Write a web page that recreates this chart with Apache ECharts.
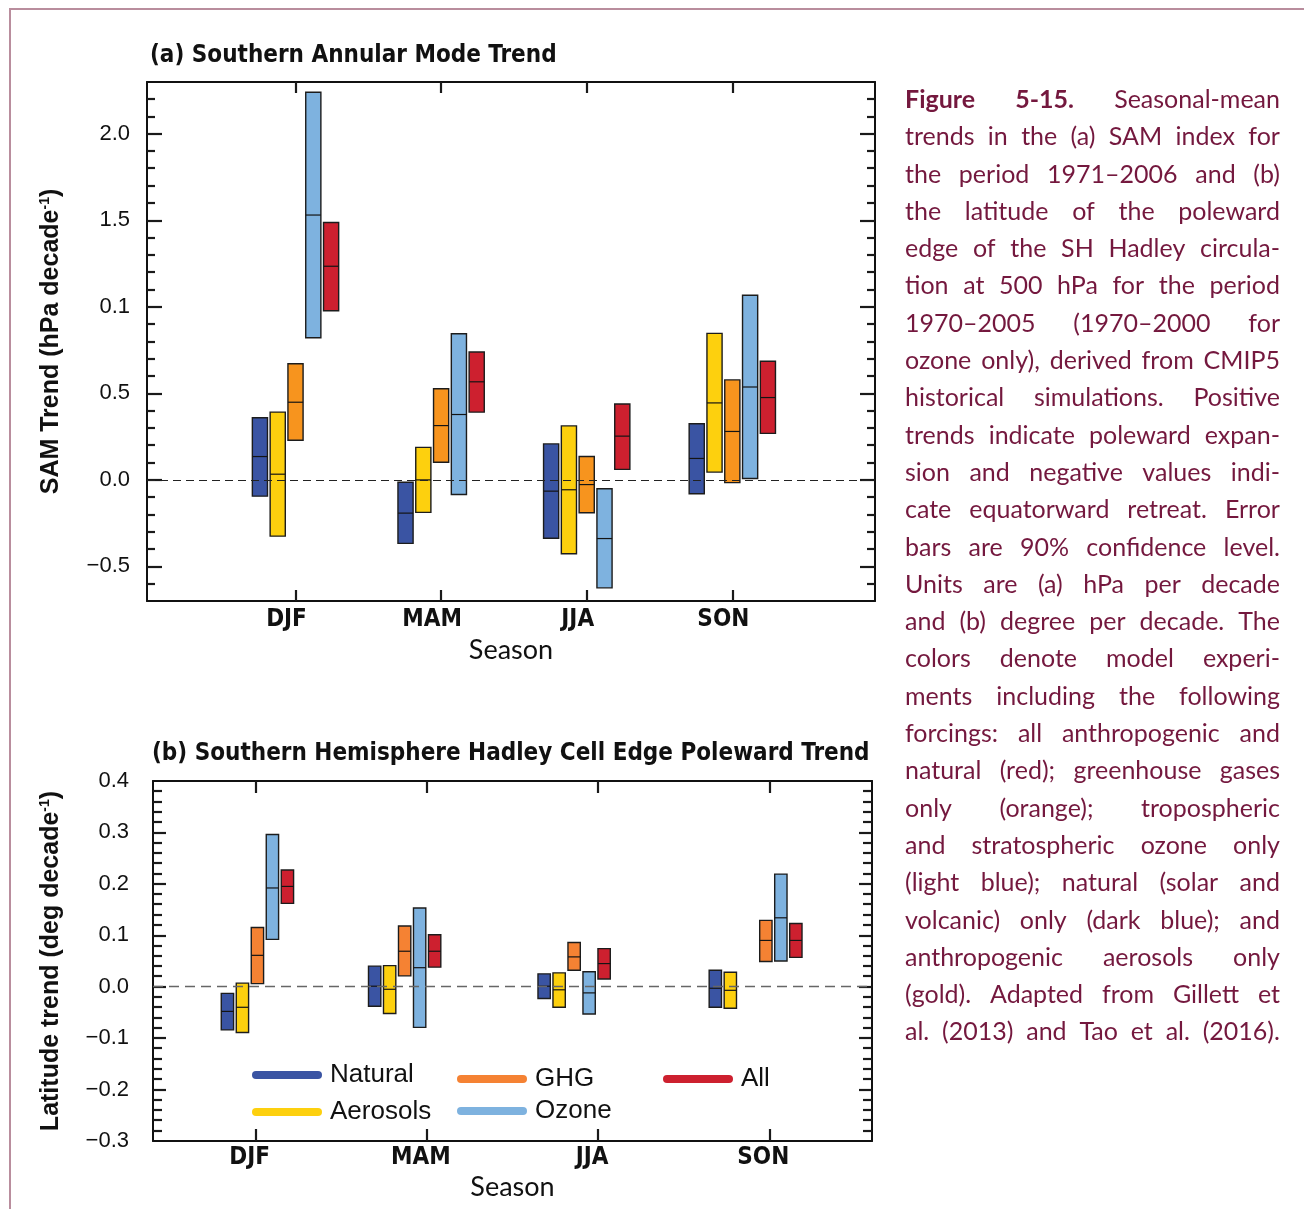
<!DOCTYPE html>
<html><head><meta charset="utf-8">
<script src="https://cdn.jsdelivr.net/npm/echarts@6/dist/echarts.min.js"></script>
<style>
html,body{margin:0;padding:0;background:#fff;}
#wrap{position:relative;width:1304px;height:1209px;overflow:hidden;background:#fff;}
#chart{position:absolute;left:0;top:0;width:1304px;height:1209px;}
#frame{position:absolute;left:9px;top:8px;width:1400px;height:1300px;border-top:2px solid #b98d9d;border-left:2px solid #b98d9d;pointer-events:none;}
#caption{position:absolute;left:905px;top:80px;width:375px;font-family:Lato,'Noto Sans',sans-serif;font-size:25px;color:#74183e;}
.cl{display:flex;justify-content:space-between;height:37.3px;line-height:37.3px;white-space:nowrap;}
.cl b{font-weight:bold;}
</style></head>
<body><div id="wrap"><div id="chart"></div><div id="frame"></div><div id="caption"></div></div>
<script>
// ---------------- DATA ----------------
const seasons = ['DJF', 'MAM', 'JJA', 'SON'];
const experiments = ['Natural', 'Aerosols', 'GHG', 'Ozone', 'All'];

// (a) SAM trend, hPa/decade : [low, median, high] per season
const samNatural  = [[-0.094, 0.135, 0.359], [-0.367, -0.192, -0.014], [-0.337, -0.065, 0.208], [-0.080, 0.124, 0.325]];
const samAerosols = [[-0.325, 0.033, 0.392], [-0.188, 0.000, 0.188], [-0.427, -0.057, 0.312], [0.045, 0.445, 0.847]];
const samGHG      = [[0.229, 0.449, 0.671], [0.102, 0.314, 0.527], [-0.190, -0.027, 0.135], [-0.016, 0.280, 0.578]];
const samOzone    = [[0.822, 1.531, 2.241], [-0.084, 0.378, 0.845], [-0.624, -0.339, -0.051], [0.008, 0.537, 1.067]];
const samAll      = [[0.978, 1.235, 1.488], [0.392, 0.567, 0.739], [0.061, 0.253, 0.439], [0.269, 0.476, 0.686]];

// (b) Hadley cell edge trend, deg/decade : [low, median, high] per season
const hcNatural  = [[-0.084, -0.048, -0.013], [-0.038, 0.001, 0.040], [-0.023, 0.001, 0.025], [-0.040, -0.003, 0.032]];
const hcAerosols = [[-0.089, -0.040, 0.007], [-0.052, -0.005, 0.041], [-0.040, -0.006, 0.027], [-0.042, -0.007, 0.028]];
const hcGHG      = [[0.006, 0.061, 0.115], [0.021, 0.069, 0.118], [0.032, 0.058, 0.086], [0.049, 0.090, 0.129]];
const hcOzone    = [[0.092, 0.192, 0.296], [-0.079, 0.037, 0.153], [-0.053, -0.012, 0.029], [0.050, 0.134, 0.219]];
const hcAll      = [[0.162, 0.195, 0.227], [0.038, 0.069, 0.101], [0.015, 0.045, 0.074], [0.057, 0.090, 0.123]];

// tick labels
const samTickValues = [-0.5, 0.0, 0.5, 1.0, 1.5, 2.0];
const samTickLabels = ['\u22120.5', '0.0', '0.5', '0.1', '1.5', '2.0'];
const hcTickValues = [-0.3, -0.2, -0.1, 0.0, 0.1, 0.2, 0.3, 0.4];
const hcTickLabels = ['\u22120.3', '\u22120.2', '\u22120.1', '0.0', '0.1', '0.2', '0.3', '0.4'];

const captionLines = [
  'Figure 5-15. Seasonal-mean',
  'trends in the (a) SAM index for',
  'the period 1971\u20132006 and (b)',
  'the latitude of the poleward',
  'edge of the SH Hadley circula-',
  'tion at 500 hPa for the period',
  '1970\u20132005 (1970\u20132000 for',
  'ozone only), derived from CMIP5',
  'historical simulations. Positive',
  'trends indicate poleward expan-',
  'sion and negative values indi-',
  'cate equatorward retreat. Error',
  'bars are 90% confidence level.',
  'Units are (a) hPa per decade',
  'and (b) degree per decade. The',
  'colors denote model experi-',
  'ments including the following',
  'forcings: all anthropogenic and',
  'natural (red); greenhouse gases',
  'only (orange); tropospheric',
  'and stratospheric ozone only',
  '(light blue); natural (solar and',
  'volcanic) only (dark blue); and',
  'anthropogenic aerosols only',
  '(gold). Adapted from Gillett et',
  'al. (2013) and Tao et al. (2016).'
];

// ---------------- CAPTION ----------------
const cap = document.getElementById('caption');
captionLines.forEach(function (line, i) {
  const d = document.createElement('div');
  d.className = 'cl';
  line.split(' ').forEach(function (w, j) {
    const s = document.createElement(i === 0 && j < 2 ? 'b' : 'span');
    s.textContent = w;
    d.appendChild(s);
  });
  cap.appendChild(d);
});

// ---------------- STYLE / LAYOUT ----------------
const colorsA = ['#3A54A3', '#FDD00E', '#F7941E', '#7EB2DF', '#CD202F'];
const colorsB = ['#3A54A3', '#FDD00E', '#F58233', '#7EB2DF', '#CD202F'];
const samSets = [samNatural, samAerosols, samGHG, samOzone, samAll];
const hcSets = [hcNatural, hcAerosols, hcGHG, hcOzone, hcAll];

const fontTick = "'Liberation Sans', Arial, sans-serif";
const fontCond = "'Liberation Sans Narrow', 'DejaVu Sans Condensed', sans-serif";
const fontMyriad = "Lato, 'Open Sans', sans-serif";
const frameLine = { color: '#111', width: 2 };
const tickStyle = { color: '#1a1a1a', width: 2.2 };

function fmt(vals, labels) {
  return function (v) {
    for (let i = 0; i < vals.length; i++) if (Math.abs(vals[i] - v) < 1e-6) return labels[i];
    return '';
  };
}
function range(a, b, step, skip) {
  const out = [];
  const n = Math.round((b - a) / step);
  for (let i = 0; i <= n; i++) {
    const v = Math.round((a + i * step) * 1000) / 1000;
    if (skip && Math.abs(v / skip - Math.round(v / skip)) < 1e-6) continue;
    out.push(v);
  }
  return out;
}

function boxRenderer(color) {
  return function (params, api) {
    const x = api.value(0), w = api.value(4);
    const p1 = api.coord([x - w / 2, api.value(3)]);
    const p2 = api.coord([x + w / 2, api.value(1)]);
    const pm = api.coord([x, api.value(2)]);
    return {
      type: 'group',
      children: [
        { type: 'rect', shape: { x: p1[0], y: p1[1], width: p2[0] - p1[0], height: p2[1] - p1[1] },
          style: { fill: color, stroke: '#1c1c1c', lineWidth: 1.4 } },
        { type: 'line', shape: { x1: p1[0], y1: pm[1], x2: p2[0], y2: pm[1] },
          style: { stroke: '#141414', lineWidth: 1.2 } }
      ]
    };
  };
}

// minor ticks on both vertical frame edges, placed through the y scale
function minorTickRenderer(len) {
  return function (params, api) {
    const cs = params.coordSys;
    const y = Math.round(api.coord([api.value(0), api.value(1)])[1]);
    return {
      type: 'group',
      children: [
        { type: 'line', shape: { x1: cs.x, y1: y, x2: cs.x + len, y2: y }, style: { stroke: tickStyle.color, lineWidth: tickStyle.width } },
        { type: 'line', shape: { x1: cs.x + cs.width - len, y1: y, x2: cs.x + cs.width, y2: y }, style: { stroke: tickStyle.color, lineWidth: tickStyle.width } }
      ]
    };
  };
}

function yMain(gridIndex, min, max, majors, labVals, labs, majLen, margin, name, nameGap) {
  const base = { type: 'value', gridIndex: gridIndex, min: min, max: max, splitLine: { show: false } };
  return [
    Object.assign({}, base, {
      position: 'left',
      name: name, nameLocation: 'middle', nameGap: nameGap, nameRotate: 90,
      nameTextStyle: { fontFamily: fontTick, fontWeight: 'bold', fontSize: 25, color: '#111',
        rich: { sup: { fontFamily: fontTick, fontWeight: 'bold', fontSize: 14, color: '#111', verticalAlign: 'top', lineHeight: 26 } } },
      axisLine: { show: true, onZero: false, lineStyle: frameLine },
      axisTick: { show: true, inside: true, length: majLen, customValues: majors, lineStyle: tickStyle },
      axisLabel: { show: true, customValues: labVals, formatter: fmt(labVals, labs), margin: margin,
        fontFamily: fontTick, fontSize: 22, color: '#111' }
    }),
    Object.assign({}, base, {
      position: 'right',
      axisLine: { show: true, onZero: false, lineStyle: frameLine },
      axisTick: { show: true, inside: true, length: majLen, customValues: majors, lineStyle: tickStyle },
      axisLabel: { show: false }
    })
  ];
}

function xAxes(gridIndex, min, max, tickLen, margin, shift, nameGap) {
  const cats = seasons.map(function (s, i) { return i; });
  return [
    { type: 'value', gridIndex: gridIndex, min: min, max: max, position: 'bottom', splitLine: { show: false },
      axisLine: { show: true, onZero: false, lineStyle: frameLine },
      axisTick: { show: true, inside: true, length: tickLen, customValues: cats, lineStyle: tickStyle },
      axisLabel: { show: true, customValues: cats, margin: margin, padding: [0, shift, 0, 0],
        formatter: function (v) { return seasons[Math.round(v)]; },
        fontFamily: fontCond, fontWeight: 'bold', fontSize: 24, color: '#111' },
      name: 'Season', nameLocation: 'middle', nameGap: nameGap,
      nameTextStyle: { fontFamily: fontMyriad, fontSize: 27, color: '#111' } },
    { type: 'value', gridIndex: gridIndex, min: min, max: max, position: 'top', splitLine: { show: false },
      axisLine: { show: true, onZero: false, lineStyle: frameLine },
      axisTick: { show: true, inside: true, length: tickLen, customValues: cats, lineStyle: tickStyle },
      axisLabel: { show: false } }
  ];
}

// bar placement (axis units)
const aCenters = [0, 1, 2, 3];
const aStep = 0.1222, aWidth = 0.104;
const bCenters = [0.01, 0.87, 1.86, 2.86];
const bStep = 0.0876, bWidth = 0.072;

function buildData(sets, s, centers, step, width, extra) {
  return sets[s].map(function (t, k) {
    const x = centers[k] + (s - 2) * step + (extra ? extra(k, s) : 0);
    return [x, t[0], t[1], t[2], width];
  });
}

const series = [];
// panel (b) first so legend picks its colours
experiments.forEach(function (name, s) {
  series.push({
    type: 'custom', name: name, xAxisIndex: 2, yAxisIndex: 2, z: 3,
    itemStyle: { color: colorsB[s] },
    renderItem: boxRenderer(colorsB[s]),
    encode: { x: 0, y: [1, 2, 3] },
    data: buildData(hcSets, s, bCenters, bStep, bWidth, function (k, s) { return (k === 3 && s >= 2) ? 0.12 : 0; })
  });
});
experiments.forEach(function (name, s) {
  series.push({
    type: 'custom', name: name, xAxisIndex: 0, yAxisIndex: 0, z: 3,
    itemStyle: { color: colorsA[s] },
    renderItem: boxRenderer(colorsA[s]),
    encode: { x: 0, y: [1, 2, 3] },
    data: buildData(samSets, s, aCenters, aStep, aWidth)
  });
});
// minor frame ticks
const samMinors = range(-0.6, 2.2, 0.1, 0.5);
const hcMinors = range(-0.28, 0.38, 0.02, 0.1);
series.push({
  type: 'custom', xAxisIndex: 0, yAxisIndex: 0, z: 4, silent: true, clip: false,
  renderItem: minorTickRenderer(8), encode: { x: 0, y: 1 },
  data: samMinors.map(function (v) { return [0, v]; })
});
series.push({
  type: 'custom', xAxisIndex: 2, yAxisIndex: 2, z: 4, silent: true, clip: false,
  renderItem: minorTickRenderer(9), encode: { x: 0, y: 1 },
  data: hcMinors.map(function (v) { return [0, v]; })
});
// zero reference lines
series.push({
  type: 'line', xAxisIndex: 0, yAxisIndex: 0, data: [], z: 1, silent: true,
  markLine: { silent: true, symbol: ['none', 'none'], label: { show: false },
    lineStyle: { type: [8, 5], color: '#222', width: 1.2 }, data: [{ yAxis: 0 }] }
});
series.push({
  type: 'line', xAxisIndex: 2, yAxisIndex: 2, data: [], z: 1, silent: true,
  markLine: { silent: true, symbol: ['none', 'none'], label: { show: false },
    lineStyle: { type: [10, 6], color: '#666', width: 1.3 }, data: [{ yAxis: 0 }] }
});

const legendCommon = {
  orient: 'vertical', padding: 0, itemWidth: 70, itemHeight: 8, selectedMode: false,
  icon: 'path://M4,0L66,0A4,4,0,0,1,66,8L4,8A4,4,0,0,1,4,0Z',
  itemStyle: { borderWidth: 0 },
  textStyle: { fontFamily: fontTick, fontSize: 26, color: '#111', lineHeight: 30, padding: [0, 0, 0, 3] }
};

const option = {
  animation: false,
  backgroundColor: '#fff',
  title: [
    { text: '(a) Southern Annular Mode Trend', left: 150, top: 42, padding: 0,
      textStyle: { fontFamily: fontCond, fontWeight: 'bold', fontSize: 24, color: '#111', lineHeight: 28 } },
    { text: '(b) Southern Hemisphere Hadley Cell Edge Poleward Trend', left: 152, top: 740, padding: 0,
      textStyle: { fontFamily: fontCond, fontWeight: 'bold', fontSize: 24, color: '#111', lineHeight: 28 } }
  ],
  grid: [
    { left: 147, top: 82, width: 728, height: 519 },
    { left: 153, top: 781, width: 719, height: 360 }
  ],
  xAxis: [].concat(
    xAxes(0, -1.02, 3.98, 11, 7, 18, 36),
    xAxes(1, -0.6, 3.6, 12, 5, 12, 33)
  ),
  yAxis: [].concat(
    yMain(0, -0.7, 2.3, samTickValues, samTickValues, samTickLabels, 15, 17,
      'SAM Trend (hPa decade{sup|-1})', 83),
    yMain(1, -0.3, 0.4, range(-0.2, 0.3, 0.1), hcTickValues, hcTickLabels, 13, 24,
      'Latitude trend (deg decade{sup|-1})', 89)
  ),
  legend: [
    Object.assign({}, legendCommon, { data: ['Natural', 'Aerosols'], left: 252, top: 1060, itemGap: 7 }),
    Object.assign({}, legendCommon, { data: ['GHG', 'Ozone'], left: 457, top: 1064, itemGap: 2 }),
    Object.assign({}, legendCommon, { data: ['All'], left: 663, top: 1064 })
  ],
  series: series
};

const chart = echarts.init(document.getElementById('chart'), null, { renderer: 'canvas' });
chart.setOption(option);
</script>
</body></html>
